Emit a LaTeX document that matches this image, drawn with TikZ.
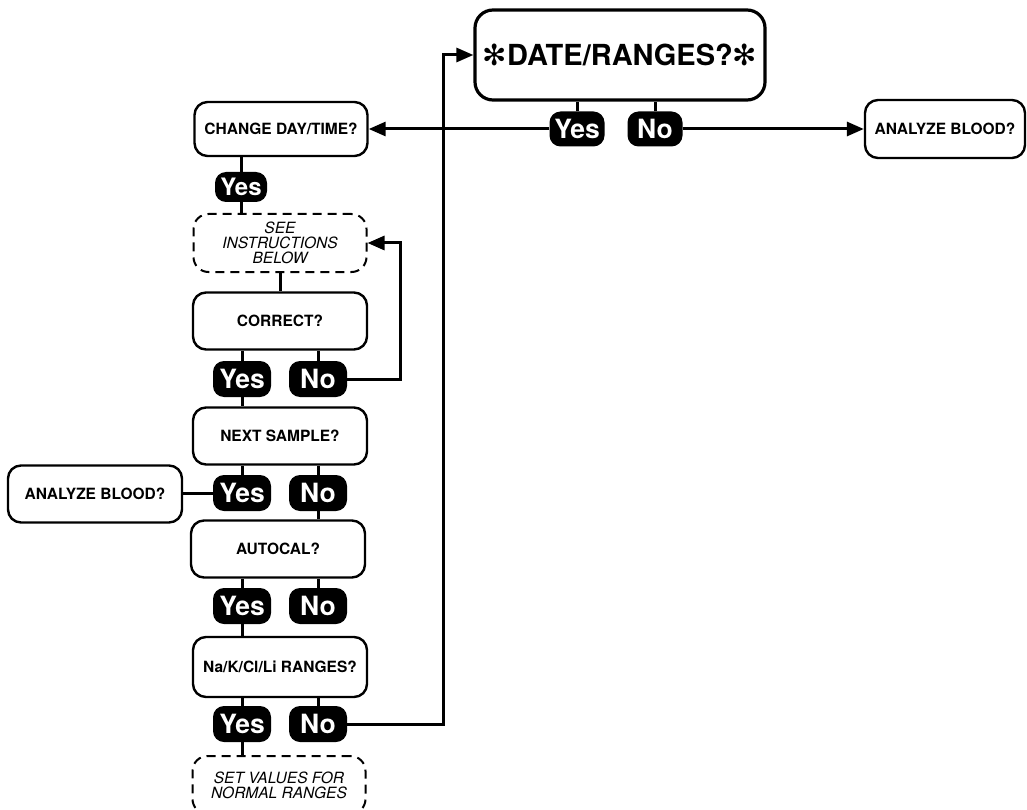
\documentclass[tikz,border=0pt]{standalone}
\usepackage{fontspec}
\setmainfont{TeX Gyre Heros}
\newfontfamily\symfont{DejaVu Sans}
\usetikzlibrary{arrows.meta}
\begin{document}
\begin{tikzpicture}[x=1pt,y=-1pt,
  box/.style={draw, line width=2.4pt, rounded corners=13pt, inner sep=0pt, align=center,
    minimum width=174pt, minimum height=57pt, font=\bfseries\fontsize{15.5}{17}\selectfont},
  dbox/.style={draw, line width=2pt, dash pattern=on 9pt off 6pt, rounded corners=15pt,
    inner sep=0pt, align=center, minimum width=173pt, minimum height=58pt,
    font=\itshape\fontsize{15.5}{15}\selectfont},
  pill/.style={fill=black, rounded corners=11pt, text=white, inner sep=0pt,
    font=\bfseries\fontsize{26.5}{26}\selectfont, minimum width=58pt, minimum height=36pt},
  ln/.style={line width=3pt},
  arr/.style={ln, -{Triangle[length=17pt,width=14pt]}}
]
\useasboundingbox (0,0) rectangle (1027,810);
\begin{scope}
\clip (0,0) rectangle (1027,810);
% nodes
\node[box, line width=3.2pt, rounded corners=18pt, minimum width=290pt, minimum height=90pt,
  font=\bfseries\fontsize{29}{32}\selectfont] (top) at (620,55)
  {{\symfont\mdseries ✻}DATE/RANGES?{\symfont\mdseries ✻}};
\node[pill, minimum width=55pt, minimum height=35pt] (yes0) at (577,129) {Yes};
\node[pill, minimum width=55pt, minimum height=35pt] (no0) at (655,129) {No};
\node[box, minimum width=160pt, minimum height=58pt] (abR) at (945,129) {ANALYZE BLOOD?};
\node[box, minimum width=173pt, minimum height=54pt] (cdt) at (281,129) {CHANGE DAY/TIME?};
\node[pill, minimum width=52pt, minimum height=30pt, font=\bfseries\fontsize{24}{24}\selectfont] (yes1) at (241,187) {Yes};
\node[dbox] (see) at (280,243) {SEE\\INSTRUCTIONS\\BELOW};
\node[box] (cor) at (280,321) {CORRECT?};
\node[pill] (yes2) at (242,379) {Yes};
\node[pill] (no2) at (318,379) {No};
\node[box] (nxt) at (280,436) {NEXT SAMPLE?};
\node[pill] (yes3) at (242,493) {Yes};
\node[pill] (no3) at (318,493) {No};
\node[box] (abL) at (95,494) {ANALYZE BLOOD?};
\node[box] (auto) at (278,549) {AUTOCAL?};
\node[pill] (yes4) at (242,606) {Yes};
\node[pill] (no4) at (318,606) {No};
\node[box, minimum height=60pt] (nak) at (280,667) {Na/K/Cl/Li RANGES?};
\node[pill] (yes5) at (242,724) {Yes};
\node[pill] (no5) at (318,724) {No};
\node[dbox] (set) at (279,785) {SET VALUES FOR\\NORMAL RANGES};
% connectors
\coordinate (turn) at (443,724);
\coordinate (fb) at (400,379);
\draw[ln] (yes0.north) -- (yes0.north |- top.south);
\draw[ln] (no0.north) -- (no0.north |- top.south);
\draw[arr] (yes0.west) -- (cdt.east);
\draw[arr] (no0.east) -- (abR.west);
\draw[arr] (no5.east) -- (turn) |- (top.west);
\draw[ln] (yes1.north) -- (yes1.north |- cdt.south);
\draw[ln] (yes1.south) -- (yes1.south |- see.north);
\draw[ln] (see.south) -- (cor.north);
\draw[ln] (yes2.north) -- (yes2.north |- cor.south);
\draw[ln] (no2.north) -- (no2.north |- cor.south);
\draw[arr] (no2.east) -- (fb) |- (see.east);
\draw[ln] (yes2.south) -- (yes2.south |- nxt.north);
\draw[ln] (yes3.north) -- (yes3.north |- nxt.south);
\draw[ln] (no3.north) -- (no3.north |- nxt.south);
\draw[ln] (yes3.west) -- (yes3.west -| abL.east);
\draw[ln] (no3.south) -- (no3.south |- auto.north);
\draw[ln] (yes4.north) -- (yes4.north |- auto.south);
\draw[ln] (no4.north) -- (no4.north |- auto.south);
\draw[ln] (yes4.south) -- (yes4.south |- nak.north);
\draw[ln] (yes5.north) -- (yes5.north |- nak.south);
\draw[ln] (no5.north) -- (no5.north |- nak.south);
\draw[ln] (yes5.south) -- (yes5.south |- set.north);
\end{scope}
\end{tikzpicture}
\end{document}
